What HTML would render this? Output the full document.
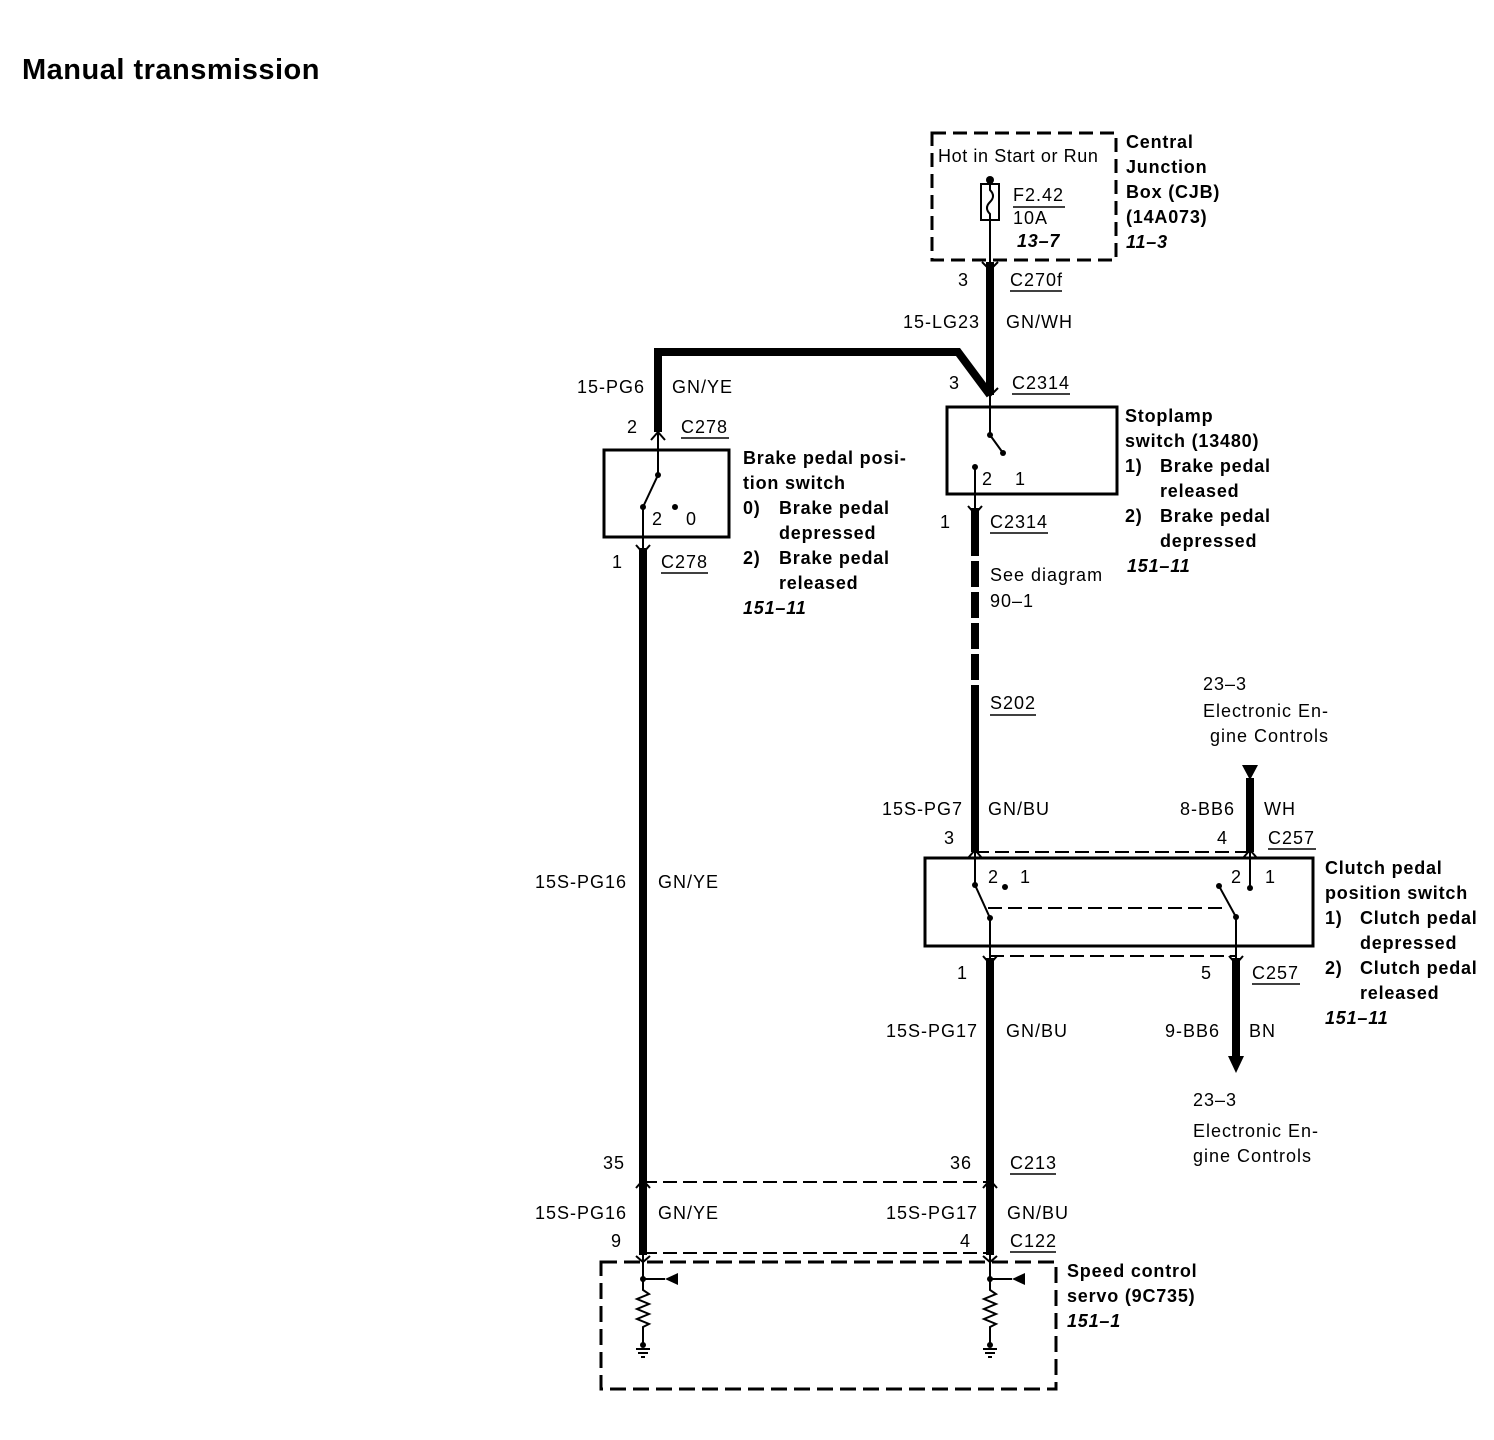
<!DOCTYPE html>
<html><head><meta charset="utf-8"><style>
body{margin:0;background:#fff;}
svg{display:block;}
text{font-family:"Liberation Sans",sans-serif;font-size:18px;letter-spacing:1px;fill:#000;}
.b{font-weight:bold;letter-spacing:0.8px;}
.i{font-weight:bold;font-style:italic;letter-spacing:0.8px;}
</style></head><body>
<svg width="1494" height="1440" viewBox="0 0 1494 1440" xmlns="http://www.w3.org/2000/svg">
<text x="22" y="79" class="b" style="font-size:29px;letter-spacing:0.5px">Manual transmission</text>

<g fill="none" stroke="#000">
<rect x="932" y="133" width="184" height="127" stroke-width="3" stroke-dasharray="14,7"/>
<rect x="981" y="184" width="18" height="36" stroke-width="2"/>
<path d="M990 180 V190 Q996 196 990 202 Q984 208 990 214 V262" stroke-width="2"/>
<path d="M990 262 V395" stroke-width="8"/>
<path d="M658 432 V352 H958 L990 395" stroke-width="8"/>
<rect x="947" y="407" width="170" height="87" stroke-width="3"/>
<path d="M990 395 V435 L1003 453" stroke-width="2"/>
<path d="M975 467 V508" stroke-width="2"/>
<path d="M975 508 V530" stroke-width="8"/>
<path d="M975 530 V700" stroke-width="8" stroke-dasharray="26,5"/>
<path d="M975 700 V852" stroke-width="8"/>
<rect x="604" y="450" width="125" height="87" stroke-width="3"/>
<path d="M658 432 V475 L643 507 V548" stroke-width="2"/>
<path d="M643 548 V1255" stroke-width="8"/>
<path d="M1250 778 V852" stroke-width="8"/>
<path d="M975 852 H1250" stroke-width="2" stroke-dasharray="14,6"/>
<rect x="925" y="858" width="388" height="88" stroke-width="3"/>
<path d="M975 852 V885 L990 918 V958" stroke-width="2"/>
<path d="M1250 852 V888" stroke-width="2"/>
<path d="M1219 886 L1236 917 V958" stroke-width="2"/>
<path d="M988 908 H1226" stroke-width="2" stroke-dasharray="14,6"/>
<path d="M990 956 H1236" stroke-width="2" stroke-dasharray="14,6"/>
<path d="M990 958 V1255" stroke-width="8"/>
<path d="M1236 958 V1058" stroke-width="8"/>
<path d="M643 1182 H990" stroke-width="2" stroke-dasharray="14,6"/>
<path d="M643 1253 H990" stroke-width="2" stroke-dasharray="14,6"/>
<rect x="601" y="1262" width="455" height="127" stroke-width="3" stroke-dasharray="16,7"/>
<path d="M643 1255 V1290 l6 4 -12 5 12 5 -12 5 12 5 -12 5 12 5 -6 3 V1345 M665 1279 H643" stroke-width="2"/>
<path d="M990 1255 V1290 l6 4 -12 5 12 5 -12 5 12 5 -12 5 12 5 -6 3 V1345 M1012 1279 H990" stroke-width="2"/>
<path d="M636 1349 h14 M638 1353 h10 M641 1357 h4 M983 1349 h14 M985 1353 h10 M988 1357 h4" stroke-width="2"/>
<path d="M982 262 L990 270 L998 262 M982 388 L990 396 L998 388" stroke-width="2"/>
<path d="M651 440 L658 432 L665 440 M636 545 L643 553 L650 545 M968 506 L975 514 L982 506" stroke-width="2"/>
<path d="M968 858 L975 850 L982 858 M1243 858 L1250 850 L1257 858 M983 956 L990 964 L997 956 M1229 956 L1236 964 L1243 956" stroke-width="2"/>
<path d="M636 1188 L643 1180 L650 1188 M983 1188 L990 1180 L997 1188 M636 1256 L643 1262 L650 1256 M983 1256 L990 1262 L997 1256" stroke-width="2"/>
<path d="M1010 291 H1062 M1012 394 H1070 M681 438 H729 M661 573 H708 M990 533 H1048 M990 715 H1036 M1268 849 H1316 M1252 984 H1300 M1010 1174 H1056 M1010 1252 H1056 M1013 207 H1065" stroke-width="1.5"/>
</g>
<g fill="#000">
<circle cx="990" cy="180" r="4"/>
<circle cx="990" cy="435" r="3"/><circle cx="1003" cy="453" r="3"/><circle cx="975" cy="467" r="3"/>
<circle cx="658" cy="475" r="3"/><circle cx="643" cy="507" r="3"/><circle cx="675" cy="507" r="3"/>
<circle cx="975" cy="885" r="3"/><circle cx="990" cy="918" r="3"/><circle cx="1005" cy="887" r="3"/>
<circle cx="1250" cy="888" r="3"/><circle cx="1219" cy="886" r="3"/><circle cx="1236" cy="917" r="3"/>
<circle cx="975" cy="703" r="4"/>
<circle cx="643" cy="1279" r="3"/><circle cx="990" cy="1279" r="3"/>
<circle cx="643" cy="1345" r="3"/><circle cx="990" cy="1345" r="3"/>
<polygon points="1242,765 1258,765 1250,780"/>
<polygon points="1228,1056 1244,1056 1236,1073"/>
<polygon points="665,1279 678,1273 678,1285"/>
<polygon points="1012,1279 1025,1273 1025,1285"/>
</g>

<text x="938" y="162" style="letter-spacing:0.6px">Hot in Start or Run</text>
<text x="1013" y="201">F2.42</text>
<text x="1013" y="224">10A</text>
<text x="1017" y="247" class="i">13–7</text>
<text x="1126" y="148" class="b">Central</text>
<text x="1126" y="173" class="b">Junction</text>
<text x="1126" y="198" class="b">Box (CJB)</text>
<text x="1126" y="223" class="b">(14A073)</text>
<text x="1126" y="248" class="i">11–3</text>
<text x="958" y="286">3</text><text x="1010" y="286">C270f</text>
<text x="903" y="328">15-LG23</text><text x="1006" y="328">GN/WH</text>
<text x="577" y="393">15-PG6</text><text x="672" y="393">GN/YE</text>
<text x="949" y="389">3</text><text x="1012" y="389">C2314</text>
<text x="982" y="485">2</text><text x="1015" y="485">1</text>
<text x="1125" y="422" class="b">Stoplamp</text>
<text x="1125" y="447" class="b">switch (13480)</text>
<text x="1125" y="472" class="b">1)</text><text x="1160" y="472" class="b">Brake pedal</text>
<text x="1160" y="497" class="b">released</text>
<text x="1125" y="522" class="b">2)</text><text x="1160" y="522" class="b">Brake pedal</text>
<text x="1160" y="547" class="b">depressed</text>
<text x="1127" y="572" class="i">151–11</text>
<text x="940" y="528">1</text><text x="990" y="528">C2314</text>
<text x="990" y="581">See diagram</text>
<text x="990" y="607">90–1</text>
<text x="990" y="709">S202</text>
<text x="627" y="433">2</text><text x="681" y="433">C278</text>
<text x="652" y="525">2</text><text x="686" y="525">0</text>
<text x="612" y="568">1</text><text x="661" y="568">C278</text>
<text x="743" y="464" class="b">Brake pedal posi-</text>
<text x="743" y="489" class="b">tion switch</text>
<text x="743" y="514" class="b">0)</text><text x="779" y="514" class="b">Brake pedal</text>
<text x="779" y="539" class="b">depressed</text>
<text x="743" y="564" class="b">2)</text><text x="779" y="564" class="b">Brake pedal</text>
<text x="779" y="589" class="b">released</text>
<text x="743" y="614" class="i">151–11</text>
<text x="1203" y="690">23–3</text>
<text x="1203" y="717">Electronic En-</text>
<text x="1210" y="742">gine Controls</text>
<text x="882" y="815">15S-PG7</text><text x="988" y="815">GN/BU</text>
<text x="1180" y="815">8-BB6</text><text x="1264" y="815">WH</text>
<text x="944" y="844">3</text><text x="1217" y="844">4</text><text x="1268" y="844">C257</text>
<text x="988" y="883">2</text><text x="1020" y="883">1</text>
<text x="1231" y="883">2</text><text x="1265" y="883">1</text>
<text x="1325" y="874" class="b">Clutch pedal</text>
<text x="1325" y="899" class="b">position switch</text>
<text x="1325" y="924" class="b">1)</text><text x="1360" y="924" class="b">Clutch pedal</text>
<text x="1360" y="949" class="b">depressed</text>
<text x="1325" y="974" class="b">2)</text><text x="1360" y="974" class="b">Clutch pedal</text>
<text x="1360" y="999" class="b">released</text>
<text x="1325" y="1024" class="i">151–11</text>
<text x="957" y="979">1</text><text x="1201" y="979">5</text><text x="1252" y="979">C257</text>
<text x="535" y="888">15S-PG16</text><text x="658" y="888">GN/YE</text>
<text x="886" y="1037">15S-PG17</text><text x="1006" y="1037">GN/BU</text>
<text x="1165" y="1037">9-BB6</text><text x="1249" y="1037">BN</text>
<text x="1193" y="1106">23–3</text>
<text x="1193" y="1137">Electronic En-</text>
<text x="1193" y="1162">gine Controls</text>
<text x="603" y="1169">35</text><text x="950" y="1169">36</text><text x="1010" y="1169">C213</text>
<text x="535" y="1219">15S-PG16</text><text x="658" y="1219">GN/YE</text>
<text x="886" y="1219">15S-PG17</text><text x="1007" y="1219">GN/BU</text>
<text x="611" y="1247">9</text><text x="960" y="1247">4</text><text x="1010" y="1247">C122</text>
<text x="1067" y="1277" class="b">Speed control</text>
<text x="1067" y="1302" class="b">servo (9C735)</text>
<text x="1067" y="1327" class="i">151–1</text>
</svg>
</body></html>
